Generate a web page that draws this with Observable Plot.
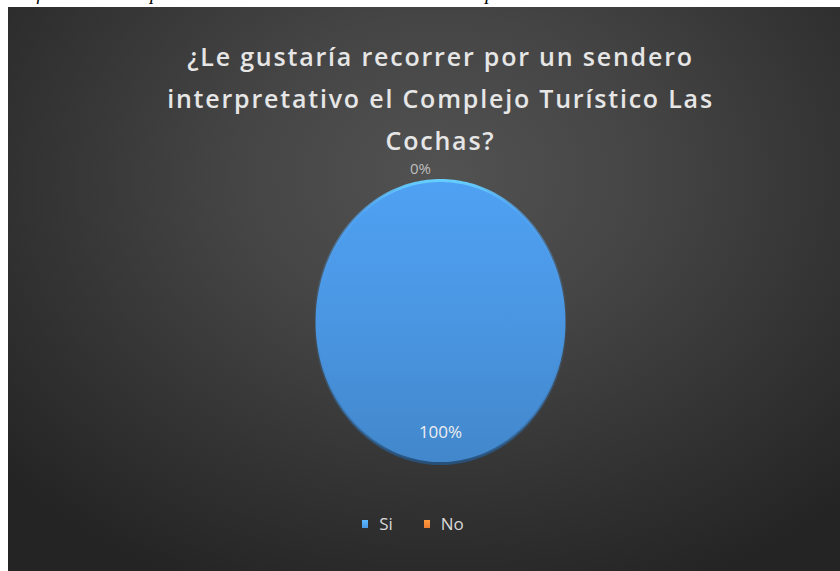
<!DOCTYPE html>
<html>
<head>
<meta charset="utf-8">
<script src="https://cdn.jsdelivr.net/npm/d3@7"></script>
<script src="https://cdn.jsdelivr.net/npm/@observablehq/plot@0.6"></script>
<style>
  html, body { margin: 0; padding: 0; background: #ffffff; width: 840px; height: 571px; overflow: hidden; }
  #caption { position: absolute; left: 6px; top: -17px; font: italic 19px "Liberation Serif", serif; color: #000; white-space: nowrap; }
  #wrap { position: absolute; left: 8px; top: 7px; width: 832px; height: 564px;
          background: radial-gradient(ellipse 70% 80% at 52% 30%, #525252 0%, #454545 35%, #333333 70%, #242424 100%); }
  #chart { position: absolute; left: 0; top: 0; }
  #legend { position: absolute; left: 0; top: 505px; width: 832px; display: flex; justify-content: center; gap: 31px;
            font: 17px "Open Sans", sans-serif; color: #d9d9d9; transform: translateX(-11px); }
  .item { display: flex; align-items: center; gap: 11px; }
  .sw { width: 6px; height: 8px; display: inline-block; }
</style>
</head>
<body>
<div id="caption">Gráfico 15: Gusto por la actividad de recorrer el sendero interpretativo</div>
<div id="wrap"><div id="chart"></div><div id="legend"></div></div>
<script>
// ---- data ----
const categories = ["Si", "No"];
const values = [100, 0];
const colors = ["#4a96e2", "#ed7d31"];
const pctLabels = ["100%", "0%"];
const titleText = "¿Le gustaría recorrer por un sendero\ninterpretativo el Complejo Turístico Las\nCochas?";

// ---- build slices ----
const rows = categories.map((c, i) => ({category: c, value: values[i], color: colors[i], label: pctLabels[i], i}));
const arcs = d3.pie().sort(null).value(d => d.value)(rows);
const TAU = 2 * Math.PI;

const sliceMarks = [];
const rimMarks = [];
const labelRows = [];
arcs.forEach(a => {
  const d = a.data;
  const span = a.endAngle - a.startAngle;
  const n = Math.max(2, Math.ceil(span / TAU * 240));
  const arcPts = d3.range(n + 1).map(k => {
    const t = a.startAngle + span * k / n;
    return {x: Math.sin(t), y: Math.cos(t)};
  });
  if (span > 1e-9) {
    const poly = span < TAU - 1e-9 ? [{x: 0, y: 0}, ...arcPts, {x: 0, y: 0}] : arcPts;
    sliceMarks.push(Plot.line(poly, {x: "x", y: "y", fill: `url(#fill${d.i})`, stroke: "none"}));
    rimMarks.push(Plot.line(arcPts, {x: "x", y: "y", stroke: `url(#rim${d.i})`, strokeWidth: 3, fill: "none"}));
  }
  const mid = (a.startAngle + a.endAngle) / 2;
  const r = d.value > 0 ? 0.78 : 1.1;
  labelRows.push({x: Math.sin(mid) * r, y: Math.cos(mid) * r, label: d.label, inside: d.value > 0});
});

const W = 832, H = 564;
const chart = Plot.plot({
  width: W, height: H,
  marginTop: 0, marginBottom: 0, marginLeft: 0, marginRight: 0,
  style: {background: "transparent", overflow: "visible"},
  x: {domain: [-1, 1], range: [307, 557], axis: null},
  y: {domain: [-1, 1], range: [456, 173], axis: null},
  marks: [
    ...sliceMarks,
    ...rimMarks,
    Plot.text(labelRows.filter(d => d.inside), {x: "x", y: "y", text: "label", fill: "#eeeeee",
      fontSize: 17, fontFamily: "Open Sans, sans-serif"}),
    Plot.text(labelRows.filter(d => !d.inside), {x: "x", y: "y", text: "label", fill: "#bdbdbd",
      fontSize: 15, fontFamily: "Open Sans, sans-serif", dx: -20, dy: 3}),
    Plot.text([titleText], {frameAnchor: "top", text: d => d, fill: "#e6e6e6", fontSize: 25,
      fontWeight: 600, fontFamily: "Open Sans, sans-serif", lineHeight: 1.68, dx: 16, dy: 29})
  ]
});

// gradient definitions derived from the series colours
const ns = "http://www.w3.org/2000/svg";
const defs = document.createElementNS(ns, "defs");
function grad(id, stops) {
  const g = document.createElementNS(ns, "linearGradient");
  g.setAttribute("id", id); g.setAttribute("x1", 0); g.setAttribute("y1", 0); g.setAttribute("x2", 0); g.setAttribute("y2", 1);
  stops.forEach(([o, c, op]) => {
    const s = document.createElementNS(ns, "stop");
    s.setAttribute("offset", o); s.setAttribute("stop-color", c);
    if (op != null) s.setAttribute("stop-opacity", op);
    g.appendChild(s);
  });
  defs.appendChild(g);
}
colors.forEach((c, i) => {
  const base = d3.color(c);
  grad(`fill${i}`, [[0, base.brighter(0.2).formatHex()], [0.5, base.formatHex()], [1, base.darker(0.3).formatHex()]]);
  grad(`rim${i}`, [[0, base.brighter(0.9).formatHex()], [0.12, base.brighter(0.4).formatHex(), 0.6], [0.5, base.formatHex(), 0], [0.88, base.darker(1.2).formatHex(), 0.6], [1, base.darker(1.8).formatHex()]]);
});
const filt = document.createElementNS(ns, "filter");
filt.setAttribute("id", "shadow"); filt.setAttribute("x", "-20%"); filt.setAttribute("y", "-20%");
filt.setAttribute("width", "140%"); filt.setAttribute("height", "140%");
filt.innerHTML = '<feDropShadow dx="0" dy="3" stdDeviation="3" flood-color="#000" flood-opacity="0.55"/>';
defs.appendChild(filt);
chart.insertBefore(defs, chart.firstChild);
d3.select(chart).selectAll('path[fill^="url(#fill"]').attr("filter", "url(#shadow)");
// wide letter spacing of the title, as in the reference
d3.select(chart).selectAll("text").filter(function() { return this.textContent.includes("sendero"); })
  .style("letter-spacing", "1.8px");

document.getElementById("chart").appendChild(chart);

// legend from categories / colours
const legend = d3.select("#legend");
categories.forEach((c, i) => {
  const it = legend.append("div").attr("class", "item");
  it.append("span").attr("class", "sw")
    .style("background", `linear-gradient(${d3.color(colors[i]).brighter(0.6).formatHex()}, ${colors[i]})`);
  it.append("span").text(c);
});
</script>
</body>
</html>
